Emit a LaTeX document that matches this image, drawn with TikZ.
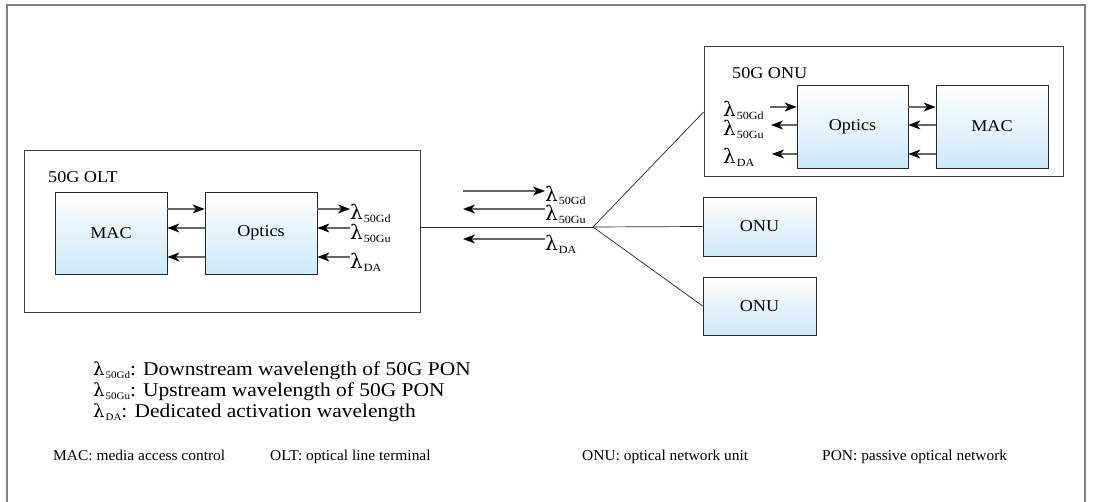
\documentclass[tikz,border=0pt]{standalone}
\usepackage{fontspec}
\setmainfont{Liberation Serif}[FakeStretch=1.1]
\newfontfamily\footfont{Liberation Serif}[FakeStretch=1.03]
\newfontfamily\lamfont{DejaVu Serif}
\usetikzlibrary{arrows.meta}
\definecolor{boxblue}{RGB}{204,233,248}
\definecolor{framegray}{RGB}{128,128,128}
\newcommand\fsz[1]{\fontsize{#1}{#1}\selectfont}
\newcommand\lam[1]{{\lamfont\fsz{20}λ}\kern1pt\raisebox{-3pt}{\fsz{11}#1}}
\newcommand\lamleg[1]{{\lamfont\fsz{18}λ}\kern1pt\raisebox{-3pt}{\fsz{10}#1}}
\begin{document}
\begin{tikzpicture}[x=1pt,y=-1pt,
  blk/.style={draw=black!85, line width=0.8pt, top color=white, bottom color=boxblue,
    inner sep=0pt, font=\fsz{16.5}},
  grp/.style={draw=black!75, line width=0.9pt, inner sep=0pt},
  arr/.style={draw=black!60, line width=1.1pt, -{Stealth[length=12pt 0 0,width=9pt 0 0,inset=3.5pt 0,black]}},
  wire/.style={draw=black!85, line width=0.7pt},
  lab/.style={inner sep=0pt, font=\fsz{16.5}},
  lbl/.style={inner sep=0pt, anchor=west},
  leg/.style={inner sep=0pt, anchor=base west, font=\fsz{19.5}},
  foot/.style={inner sep=0pt, anchor=base west, font=\footfont\fsz{15}}]
\useasboundingbox (0,0) rectangle (1093,502);
% outer frame
\draw[framegray, line width=2pt] (7,502) -- (7,5) -- (1085,5) -- (1085,502);

% ---------- OLT ----------
\node[grp, minimum width=396pt, minimum height=162pt] (olt) at (222,231) {};
\node[lab, anchor=west] (oltlab) at (48,177) {50G OLT};
\node[blk, minimum width=112pt, minimum height=82pt] (mac1) at (111,233) {MAC};
\node[blk, minimum width=112pt, minimum height=82pt] (opt1) at (261,233) {Optics};
\draw[arr] (mac1.east |- 0,209) -- (opt1.west |- 0,209);
\draw[arr] (opt1.west |- 0,228) -- (mac1.east |- 0,228);
\draw[arr] (opt1.west |- 0,257) -- (mac1.east |- 0,257);
\node[lbl] (ol1) at (350,213) {\lam{50Gd}};
\node[lbl] (ol2) at (350,233) {\lam{50Gu}};
\node[lbl] (ol3) at (350,262) {\lam{DA}};
\draw[arr] (opt1.east |- 0,209) -- (ol1.west |- 0,209);
\draw[arr] (ol2.west |- 0,228) -- (opt1.east |- 0,228);
\draw[arr] (ol3.west |- 0,257) -- (opt1.east |- 0,257);

% ---------- trunk and splitter ----------
\coordinate (split) at (593,227);
\draw[wire] (olt.east |- 0,227) -- (split);
\coordinate (m1s) at (463,191);
\coordinate (m2e) at (463,209);
\coordinate (m3e) at (463,239);
\node[lbl] (ml1) at (545,195) {\lam{50Gd}};
\node[lbl] (ml2) at (545,214) {\lam{50Gu}};
\node[lbl] (ml3) at (545,244) {\lam{DA}};
\draw[arr] (m1s) -- (ml1.west |- m1s);
\draw[arr] (ml2.west |- m2e) -- (m2e);
\draw[arr] (ml3.west |- m3e) -- (m3e);

% ---------- 50G ONU ----------
\node[grp, minimum width=359pt, minimum height=130pt] (onu) at (883.5,111) {};
\node[lab, anchor=west] (onulab) at (732,73) {50G ONU};
\node[blk, minimum width=111pt, minimum height=83pt] (opt2) at (852.5,126.5) {Optics};
\node[blk, minimum width=112pt, minimum height=83pt] (mac2) at (992,126.5) {MAC};
\node[lbl] (nl1) at (723,110) {\lam{50Gd}};
\node[lbl] (nl2) at (723,129) {\lam{50Gu}};
\node[lbl] (nl3) at (723,157) {\lam{DA}};
\coordinate (n1s) at (770,107);
\coordinate (n2e) at (771,125);
\coordinate (n3e) at (772,154);
\draw[arr] (n1s) -- (opt2.west |- n1s);
\draw[arr] (opt2.west |- n2e) -- (n2e);
\draw[arr] (opt2.west |- n3e) -- (n3e);
\draw[arr] (opt2.east |- 0,107) -- (mac2.west |- 0,107);
\draw[arr] (mac2.west |- 0,125) -- (opt2.east |- 0,125);
\draw[arr] (mac2.west |- 0,154) -- (opt2.east |- 0,154);

% ---------- plain ONUs ----------
\node[blk, minimum width=113pt, minimum height=59pt] (onu1) at (759.5,226.5) {ONU};
\node[blk, minimum width=113pt, minimum height=58pt] (onu2) at (759.5,306) {ONU};

\draw[wire] (split) -- (onu.west |- 0,112);
\draw[wire] (split) -- (onu1.west);
\draw[wire] (split) -- (onu2.west);

% ---------- legend ----------
\node[leg] (g1) at (93,376) {\lamleg{50Gd}: Downstream wavelength of 50G PON};
\node[leg] (g2) at (93,397) {\lamleg{50Gu}: Upstream wavelength of 50G PON};
\node[leg] (g3) at (93,418) {\lamleg{DA}: Dedicated activation wavelength};

\node[foot] (f1) at (53,461) {MAC: media access control};
\node[foot] (f2) at (270,461) {OLT: optical line terminal};
\node[foot] (f3) at (582,461) {ONU: optical network unit};
\node[foot] (f4) at (822,461) {PON: passive optical network};
\end{tikzpicture}
\end{document}
